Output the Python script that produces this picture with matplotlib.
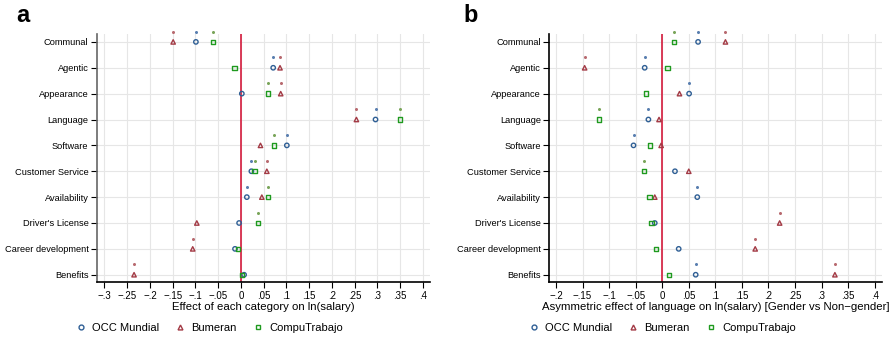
import matplotlib.pyplot as plt
import numpy as np
from matplotlib.ticker import FuncFormatter

plt.rcParams["font.family"] = ["Liberation Sans", "DejaVu Sans"]

# Categories (top to bottom)
categories = ["Communal", "Agentic", "Appearance", "Language", "Software",
              "Customer Service", "Availability", "Driver's License",
              "Career development", "Benefits"]
series = ["OCC Mundial", "Bumeran", "CompuTrabajo"]

# Panel a: effect of each category on ln(salary)
a_occ = [-0.099, 0.071, 0.002, 0.296, 0.101, 0.023, 0.013, -0.004, -0.013, 0.007]
a_bum = [-0.149, 0.086, 0.0875, 0.254, 0.043, 0.057, 0.046, -0.097, -0.106, -0.235]
a_comp = [-0.061, -0.014, 0.059, 0.350, 0.073, 0.030, 0.060, 0.037, -0.006, 0.003]
a_occ_sig = [1, 1, 0, 1, 1, 1, 1, 0, 0, 0]
a_bum_sig = [1, 1, 1, 1, 0, 1, 0, 0, 1, 1]
a_comp_sig = [1, 0, 1, 1, 1, 1, 1, 1, 0, 0]

# Panel b: asymmetric effect of language [gender vs non-gender]
b_occ = [0.0675, -0.033, 0.0506, -0.026, -0.054, 0.024, 0.066, -0.014, 0.031, 0.063]
b_bum = [0.119, -0.146, 0.0325, -0.006, -0.002, 0.050, -0.014, 0.221, 0.175, 0.325]
b_comp = [0.0225, 0.010, -0.031, -0.119, -0.023, -0.034, -0.024, -0.020, -0.012, 0.0125]
b_occ_sig = [1, 1, 1, 1, 1, 0, 1, 0, 0, 1]
b_bum_sig = [1, 1, 0, 0, 0, 0, 0, 1, 1, 1]
b_comp_sig = [1, 0, 0, 1, 0, 1, 0, 0, 0, 0]

colors = ["#2f5f95", "#a33a45", "#1f9a1f"]
star_colors = ["#5a7fb0", "#b86a70", "#7aa55a"]
markers = ["o", "^", "s"]


def fmt(v, pos):
    if abs(v) < 1e-9:
        return "0"
    s = ("%.2f" % abs(v)).rstrip("0").lstrip("0")
    return ("\u2212" if v < 0 else "") + s


def draw_panel(ax, vals, sigs, xlim, ticks, xlabel):
    y = np.arange(len(categories))
    for t in ticks:
        ax.axvline(t, color="#e6e6e6", lw=0.8, zorder=0)
    for yy in y:
        ax.axhline(yy, color="#e6e6e6", lw=0.8, zorder=0)
    ax.axvline(0, color="#d41a3c", lw=1.2, zorder=1)
    for k in range(3):
        v = np.array(vals[k])
        ax.scatter(v, y, marker=markers[k], s=10, facecolors="none",
                   edgecolors=colors[k], linewidths=1.0, zorder=3)
        sig = np.array(sigs[k]) == 1
        ax.scatter(v[sig], y[sig] - 0.4, marker=(6, 2, 0), s=3,
                   color=star_colors[k], linewidths=0.5, zorder=3, clip_on=False)
    ax.set_yticks(y)
    ax.set_yticklabels(categories, fontsize=6.7)
    ax.set_ylim(len(categories) - 1 + 0.29, -0.3)
    ax.set_xlim(*xlim)
    ax.set_xticks(ticks)
    ax.xaxis.set_major_formatter(FuncFormatter(fmt))
    ax.tick_params(axis="x", labelsize=7, length=4, width=0.8, pad=2)
    ax.tick_params(axis="y", length=4, width=0.8, pad=2)
    ax.set_xlabel(xlabel, fontsize=8.2, labelpad=1)
    for s in ["top", "right"]:
        ax.spines[s].set_visible(False)
    ax.spines["left"].set_linewidth(1.2)
    ax.spines["bottom"].set_linewidth(1.2)


fig = plt.figure(figsize=(8.96, 3.38), dpi=100)
ax1 = fig.add_axes([0.108, 0.165, 0.372, 0.734])
ax2 = fig.add_axes([0.613, 0.165, 0.371, 0.734])

draw_panel(ax1, [a_occ, a_bum, a_comp], [a_occ_sig, a_bum_sig, a_comp_sig],
           (-0.317, 0.416), np.arange(-0.3, 0.401, 0.05),
           "Effect of each category on ln(salary)")
draw_panel(ax2, [b_occ, b_bum, b_comp], [b_occ_sig, b_bum_sig, b_comp_sig],
           (-0.2126, 0.413), np.arange(-0.2, 0.401, 0.05),
           "Asymmetric effect of language on ln(salary) [Gender vs Non\u2212gender]")
ax1.spines["left"].set_color("#666666")

fig.text(16 / 896, 1 - 16 / 338, "a", fontsize=17, fontweight="bold", va="center", ha="left")
fig.text(463 / 896, 1 - 16 / 338, "b", fontsize=17, fontweight="bold", va="center", ha="left")

# Legends below each panel
handles = [plt.Line2D([], [], marker=markers[k], ls="none", mfc="none",
                      mec=colors[k], mew=1.0, ms=3.5) for k in range(3)]
for ax, x0 in [(ax1, 72 / 896), (ax2, 525 / 896)]:
    fig.legend(handles, series, loc="center left", bbox_to_anchor=(x0, 1 - 328 / 338),
               ncol=3, frameon=False, fontsize=8, handlelength=0.8,
               handletextpad=0.6, columnspacing=1.5, borderaxespad=0)

fig.savefig("out.png", dpi=100)
